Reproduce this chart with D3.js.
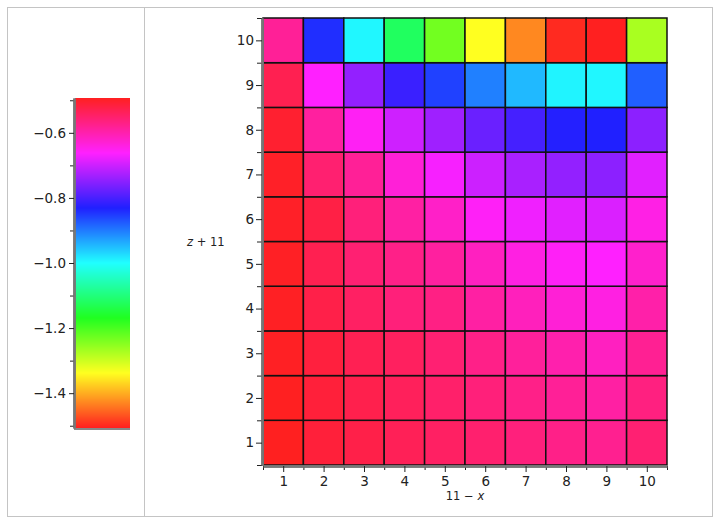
<!DOCTYPE html>
<html><head><meta charset="utf-8">
<script src="https://cdn.jsdelivr.net/npm/d3@7"></script>
<style>body{margin:0;background:#fff}svg{display:block}text{font-family:"DejaVu Sans",sans-serif;fill:#222}</style>
</head><body><svg id="c" width="720" height="527"></svg>
<script>
// columns (11 - x) and rows (z + 11)
const xCats = [1,2,3,4,5,6,7,8,9,10];
const yCats = [1,2,3,4,5,6,7,8,9,10];
// values per row, row 1 = bottom
const row1  = [-0.493,-0.513,-0.524,-0.535,-0.544,-0.552,-0.563,-0.572,-0.578,-0.555];
const row2  = [-0.494,-0.513,-0.527,-0.538,-0.549,-0.561,-0.572,-0.583,-0.592,-0.566];
const row3  = [-0.496,-0.516,-0.532,-0.541,-0.555,-0.572,-0.586,-0.600,-0.614,-0.580];
const row4  = [-0.496,-0.524,-0.544,-0.561,-0.569,-0.592,-0.611,-0.631,-0.640,-0.597];
const row5  = [-0.497,-0.530,-0.555,-0.572,-0.589,-0.614,-0.640,-0.656,-0.662,-0.623];
const row6  = [-0.499,-0.521,-0.561,-0.592,-0.620,-0.656,-0.673,-0.685,-0.690,-0.642];
const row7  = [-0.499,-0.554,-0.583,-0.632,-0.668,-0.701,-0.727,-0.744,-0.749,-0.685];
const row8  = [-0.505,-0.589,-0.654,-0.699,-0.735,-0.775,-0.803,-0.828,-0.831,-0.749];
const row9  = [-0.530,-0.662,-0.744,-0.811,-0.856,-0.904,-0.947,-0.992,-0.994,-0.879];
const row10 = [-0.583,-0.842,-0.994,-1.121,-1.231,-1.338,-1.428,-1.499,-1.507,-1.273];
const rows = [row1,row2,row3,row4,row5,row6,row7,row8,row9,row10];
const xTickLabels = [1,2,3,4,5,6,7,8,9,10];
const yTickLabels = [1,2,3,4,5,6,7,8,9,10];
const colorbarTicks = [-0.6,-0.8,-1.0,-1.2,-1.4];
const colorbarMinor = [-0.5,-0.7,-0.9,-1.1,-1.3,-1.5];

const svg = d3.select("#c");
// frames
svg.append("rect").attr("x",7.5).attr("y",7.5).attr("width",705).attr("height",509)
  .attr("fill","none").attr("stroke","#c4c4c4");
svg.append("line").attr("x1",144.5).attr("x2",144.5).attr("y1",7.5).attr("y2",516.5).attr("stroke","#c4c4c4");

const cells = [];
rows.forEach((r,i)=>r.forEach((v,j)=>cells.push({x:xCats[j], y:yCats[i], v})));
const ext = d3.extent(cells, d=>d.v);
const hue = d3.scaleLinear().domain(ext).range([0,360]);
const col = v => d3.hsl(hue(v), 1, 0.5625).formatHex();

const x = d3.scaleLinear().domain([0.5,10.5]).range([263,667]);
const y = d3.scaleLinear().domain([0.5,10.5]).range([465,18]);

svg.append("g").selectAll("rect").data(cells).join("rect")
  .attr("x", d=>x(d.x-0.5)).attr("y", d=>y(d.y+0.5))
  .attr("width", d=>x(d.x+0.5)-x(d.x-0.5)).attr("height", d=>y(d.y-0.5)-y(d.y+0.5))
  .attr("fill", d=>col(d.v)).attr("stroke","#111").attr("stroke-width",1.5);

function styleAxis(g){
  g.select(".domain").attr("stroke","#777").attr("stroke-width",2.5);
  g.selectAll(".tick line").attr("stroke","#222");
  g.selectAll(".tick text").style("font-family","DejaVu Sans").style("font-size","13.5px").attr("fill","#2a2a2a");
}
const halfs = d3.range(0.5,11,1);
// minor
svg.append("g").attr("transform","translate(262,0)")
  .call(d3.axisLeft(y).tickValues(halfs).tickSize(5).tickSizeOuter(0).tickFormat(""))
  .call(styleAxis);
svg.append("g").attr("transform","translate(262,0)")
  .call(d3.axisLeft(y).tickValues(yTickLabels).tickSize(6).tickSizeOuter(0).tickPadding(2).tickFormat(d3.format("d")))
  .call(styleAxis);
svg.append("g").attr("transform","translate(0,466)")
  .call(d3.axisBottom(x).tickValues(halfs).tickSize(4).tickSizeOuter(0).tickFormat(""))
  .call(styleAxis);
svg.append("g").attr("transform","translate(0,466)")
  .call(d3.axisBottom(x).tickValues(xTickLabels).tickSize(6).tickSizeOuter(0).tickPadding(4).tickFormat(d3.format("d")))
  .call(styleAxis);

// axis labels
const yl = svg.append("text").attr("x",187).attr("y",246).style("font-size","11.5px");
yl.append("tspan").text("z").style("font-style","italic");
yl.append("tspan").text(" + 11");
const xl = svg.append("text").attr("x",465).attr("y",500).attr("text-anchor","middle").style("font-size","11.5px");
xl.append("tspan").text("11 \u2212 ");
xl.append("tspan").text("x").style("font-style","italic");

// colorbar
const cy = d3.scaleLinear().domain(ext).range([428,98]);
const steps = d3.range(98,428,1);
svg.append("g").selectAll("rect").data(steps).join("rect")
  .attr("x",75).attr("width",55).attr("y",d=>d).attr("height",1.2)
  .attr("fill", d=>col(cy.invert(d+0.5)));
svg.append("line").attr("x1",74).attr("x2",130).attr("y1",429).attr("y2",429).attr("stroke","#888").attr("stroke-width",2);
svg.append("g").attr("transform","translate(74,0)")
  .call(d3.axisLeft(cy).tickValues(colorbarMinor).tickSize(4).tickSizeOuter(0).tickFormat(""))
  .call(styleAxis);
svg.append("g").attr("transform","translate(74,0)")
  .call(d3.axisLeft(cy).tickValues(colorbarTicks).tickSize(5).tickSizeOuter(0).tickPadding(3).tickFormat(d3.format(".1f")))
  .call(styleAxis);
</script></body></html>
